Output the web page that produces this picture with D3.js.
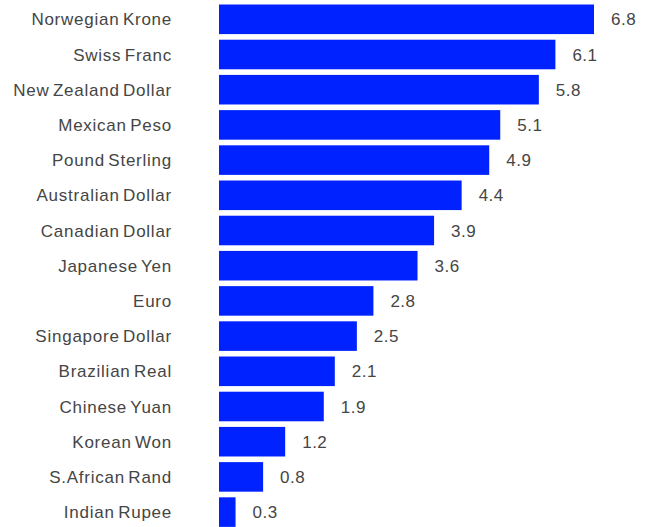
<!DOCTYPE html>
<html><head><meta charset="utf-8">
<script src="https://cdn.jsdelivr.net/npm/d3@7"></script>
<style>html,body{margin:0;padding:0;background:#fff;}svg{display:block;}</style>
</head><body>
<svg id="chart" width="655" height="527"></svg>
<script>
const categories = ["Norwegian Krone","Swiss Franc","New Zealand Dollar","Mexican Peso","Pound Sterling","Australian Dollar","Canadian Dollar","Japanese Yen","Euro","Singapore Dollar","Brazilian Real","Chinese Yuan","Korean Won","S.African Rand","Indian Rupee"];
const values = [6.8,6.1,5.8,5.1,4.9,4.4,3.9,3.6,2.8,2.5,2.1,1.9,1.2,0.8,0.3];

const svg = d3.select("#chart");
const x = d3.scaleLinear().domain([0, 6.8]).range([219, 594]);
const y = d3.scaleBand().domain(categories).range([1.7, 529.7]).paddingInner(0.16).paddingOuter(0.08);
const data = categories.map((c,i)=>({c, v: values[i]}));
const font = "'Liberation Sans', Arial, sans-serif";

svg.selectAll("rect.bar").data(data).enter().append("rect")
  .attr("class","bar")
  .attr("x", x(0))
  .attr("y", d=>y(d.c))
  .attr("width", d=>x(d.v)-x(0))
  .attr("height", y.bandwidth())
  .attr("fill", "#0022ff");

svg.selectAll("text.cat").data(data).enter().append("text")
  .attr("class","cat")
  .attr("x", 172)
  .attr("y", d=>y(d.c)+y.bandwidth()/2)
  .attr("dy", "0.36em")
  .attr("text-anchor","end")
  .style("font-family", font).style("font-size","17px")
  .style("letter-spacing","0.75px").style("word-spacing","-2px")
  .attr("fill","#454545")
  .text(d=>d.c);

svg.selectAll("text.val").data(data).enter().append("text")
  .attr("class","val")
  .attr("x", d=>x(d.v)+17)
  .attr("y", d=>y(d.c)+y.bandwidth()/2)
  .attr("dy", "0.36em")
  .style("font-family", font).style("font-size","17px")
  .style("letter-spacing","0.5px")
  .attr("fill","#454545")
  .text(d=>d3.format(".1f")(d.v));
</script>
</body></html>
